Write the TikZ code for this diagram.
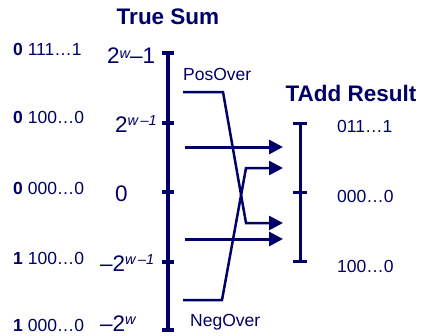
\documentclass[tikz,border=0pt]{standalone}
\usepackage{fontspec}
\setmainfont{Liberation Sans}
\usetikzlibrary{arrows.meta}
\definecolor{navy}{RGB}{0,0,102}
\newcommand{\expo}[2][6.5pt]{\raisebox{#1}{\fontsize{14.5}{15}\selectfont #2}}
\tikzset{
    bin/.style = {inner sep=0pt, anchor=base west, font=\fontsize{17.5}{19}\selectfont},
    val/.style = {inner sep=0pt, anchor=base west, font=\fontsize{22.5}{24}\selectfont},
    title/.style = {inner sep=0pt, anchor=base, font=\fontsize{22.5}{25}\selectfont\bfseries},
    axis/.style = {line width=3.5pt},
    line/.style = {line width=3pt, -{Triangle[length=14pt,width=14pt]}},
    over/.style = {line width=2.5pt, -{Triangle[length=14pt,width=14pt]}}
}

\begin{document}
\begin{tikzpicture}[x=1pt, y=-1pt, navy]
                            \useasboundingbox (0,0) rectangle (423,335);

                            % true sum axis
                            \coordinate (t1) at (168,53);
                            \coordinate (t2) at (168,123);
                            \coordinate (t3) at (168,192);
                            \coordinate (t4) at (168,262);
                            \coordinate (t5) at (168,330);
                            % tadd axis
                            \coordinate (s1) at (300,123);
                            \coordinate (s2) at (300,192);
                            \coordinate (s3) at (300,261);

                            \node[title] (sum) at (168,24) {True Sum};
                            \node[title] (tadd) at (351,101) {TAdd Result};

                            \node[bin] (b1) at (13,55) {\textbf{0} 111…1};
                            \node[bin] (b2) at (13,123) {\textbf{0} 100…0};
                            \node[bin] (b3) at (13,194) {\textbf{0} 000…0};
                            \node[bin] (b4) at (13,264) {\textbf{1} 100…0};
                            \node[bin] (b5) at (13,331) {\textbf{1} 000…0};

                            \node[val] (v1) at (107,63) {2\expo[5pt]{\itshape w}–1};
                            \node[val] (v2) at (115,132) {2\expo{\itshape w\,–1}};
                            \node[val] (v3) at (115,201) {0};
                            \node[val] (v4) at (100,271) {–2\expo{\itshape w\,–1}};
                            \node[val] (v5) at (100,331) {–2\expo[7pt]{\itshape w}};

                            \node[bin] (r1) at (337,132) {011…1};
                            \node[bin] (r2) at (337,202) {000…0};
                            \node[bin] (r3) at (337,272) {100…0};

                            \node[bin] (pos) at (183,80) {PosOver};
                            \node[bin] (neg) at (190,326) {NegOver};

                            \draw[axis] (t1) -- (t5);
                            \foreach \t in {t1,t2,t3,t4,t5}
                                \draw[axis] ([xshift=-6pt]\t) -- ([xshift=6pt]\t);
                            \draw[line width=3pt] (s1) -- (s3);
                            \foreach \t in {s1,s2,s3}
                                \draw[line width=3pt] ([xshift=-7pt]\t) -- ([xshift=7pt]\t);

                            % arrows
                            \coordinate (a1) at (185,147);
                            \coordinate (e1) at (283,147);
                            \coordinate (a2) at (185,239);
                            \coordinate (e2) at (283,239);
                            \coordinate (p1) at (183,92);
                            \coordinate (p2) at (223,92);
                            \coordinate (p3) at (246,223);
                            \coordinate (p4) at (283,223);
                            \coordinate (n1) at (183,300);
                            \coordinate (n2) at (222,300);
                            \coordinate (n3) at (246,168);
                            \coordinate (n4) at (283,168);

                            \draw[line] (a1) -- (e1);
                            \draw[line] (a2) -- (e2);
                            \draw[over] (p1) -- (p2) -- (p3) -- (p4);
                            \draw[over] (n1) -- (n2) -- (n3) -- (n4);

                        \end{tikzpicture}
\end{document}
